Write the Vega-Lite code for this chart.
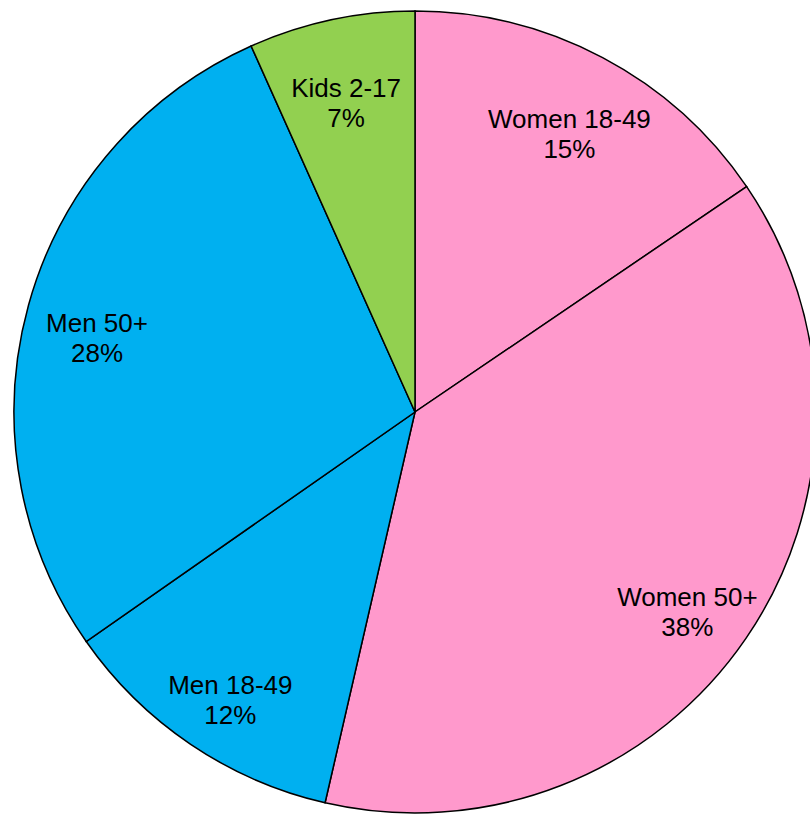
{
  "$schema": "https://vega.github.io/schema/vega-lite/v6.json",
  "width": 830,
  "height": 824,
  "padding": 0,
  "autosize": {"type": "none"},
  "background": "white",
  "view": {"stroke": null},
  "data": {
    "values": [
      {"group": "Women 18-49", "value": 15.5, "label": "15%", "order": 1},
      {"group": "Women 50+", "value": 38.1, "label": "38%", "order": 2},
      {"group": "Men 18-49", "value": 11.7, "label": "12%", "order": 3},
      {"group": "Men 50+", "value": 28.0, "label": "28%", "order": 4},
      {"group": "Kids 2-17", "value": 6.7, "label": "7%", "order": 5}
    ]
  },
  "encoding": {
    "theta": {"field": "value", "type": "quantitative", "stack": true},
    "order": {"field": "order", "type": "quantitative"}
  },
  "layer": [
    {
      "mark": {"type": "arc", "outerRadius": 401, "stroke": "black", "strokeWidth": 1.5},
      "encoding": {
        "color": {
          "field": "group",
          "type": "nominal",
          "scale": {
            "domain": ["Women 18-49", "Women 50+", "Men 18-49", "Men 50+", "Kids 2-17"],
            "range": ["#FF99CC", "#FF99CC", "#00B0F0", "#00B0F0", "#92D050"]
          },
          "legend": null
        }
      }
    },
    {
      "mark": {"type": "text", "radius": 330, "font": "Liberation Sans", "fontSize": 26, "lineHeight": 30, "color": "black", "align": "center", "baseline": "middle"},
      "encoding": {
        "text": {"field": "tlines", "type": "nominal"}
      },
      "transform": [{"calculate": "[datum.group, datum.label]", "as": "tlines"}]
    }
  ]
}
